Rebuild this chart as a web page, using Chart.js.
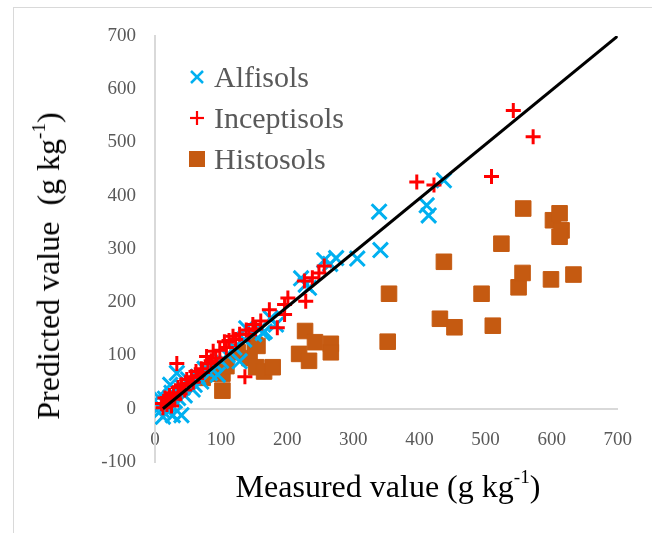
<!DOCTYPE html>
<html>
<head>
<meta charset="utf-8">
<script src="https://cdn.jsdelivr.net/npm/chart.js@4.4.1/dist/chart.umd.min.js"></script>
<style>
body { margin: 0; background: #fff; }
#wrap { position: relative; width: 652px; height: 533px; overflow: hidden; }
#frame { position: absolute; left: 13px; top: 7px; width: 700px; height: 600px;
         border-left: 1px solid #d9d9d9; border-top: 1px solid #d9d9d9; }
#chart { position: absolute; left: 0; top: 0; }
.legend { position: absolute; left: 187px; top: 56px; font-family: 'Liberation Serif', serif;
          font-size: 30px; color: #595959; }
.legend div { height: 41px; line-height: 41px; display: flex; align-items: center; }
.legend svg { margin-right: 7px; }
.title { position: absolute; font-family: 'Liberation Serif', serif; font-size: 32px;
         color: #000; white-space: nowrap; line-height: 1; }
.title sup { font-size: 60%; line-height: 0; vertical-align: 0.75em; }
#xtitle { left: 388px; top: 470px; transform: translateX(-50%); }
#ytitle { left: 48px; top: 266px; transform: translate(-50%, -50%) rotate(-90deg); }
</style>
</head>
<body>
<div id="wrap">
  <div id="frame"></div>
  <canvas id="chart" width="652" height="533"></canvas>
  <div class="legend" id="legend"></div>
  <div class="title" id="xtitle">Measured value (g kg<sup>-1</sup>)</div>
  <div class="title" id="ytitle">Predicted value&nbsp; (g kg<sup>-1</sup>)</div>
</div>
<script>

// values (g kg-1)

const seriesNames = ["Alfisols", "Inceptisols", "Histosols"];
const seriesColors = ["#00b0f0", "#ff0000", "#c55a11"];

const alfisolsMeasured = [5, 8, 10, 12, 15, 18, 20, 23, 25, 27, 30, 33, 35, 40, 42, 45, 50, 57, 60, 65,
    70, 75, 83, 90, 95, 100, 110, 120, 128, 135, 138, 150, 163, 166, 175, 183,
    221, 228, 233, 256, 265, 274, 306, 339, 341, 411, 414, 437];
const alfisolsPredicted = [22, 5, -2, -15, 19, 8, -5, 45, 30, -12, 15, 67, 20, -12, 40, 25, 55, 36, 45, 60,
    51, 75, 67, 85, 64, 90, 100, 115, 89, 130, 151, 140, 142, 145, 170, 158,
    245, 233, 227, 279, 272, 283, 282, 370, 298, 382, 363, 429];

const inceptisolsMeasured = [10, 12, 15, 18, 20, 22, 25, 28, 30, 33, 35, 38, 40, 45, 48, 50, 55, 58, 62, 65,
    70, 72, 78, 80, 85, 88, 92, 98, 105, 108, 112, 118, 122, 128, 136, 138, 142, 148,
    152, 160, 173, 185, 196, 196, 201, 226, 228, 238, 248, 256, 396, 422, 509, 542, 572];
const inceptisolsPredicted = [10, 2, 20, 8, 15, 25, 5, 30, 18, 85, 40, 28, 45, 35, 55, 48, 60, 50, 70, 62,
    75, 68, 98, 85, 90, 108, 95, 110, 126, 115, 128, 136, 130, 140, 60, 148, 140, 158,
    150, 165, 186, 152, 177, 196, 208, 240, 202, 246, 255, 268, 426, 420, 436, 560, 511];

const histosolsMeasured = [72, 83, 102, 102, 108, 125, 143, 151, 155, 153, 165, 178,
    218, 233, 227, 242, 266, 266, 352, 354, 431, 453, 437, 494, 511, 524,
    550, 556, 557, 599, 602, 612, 615, 612, 633];
const histosolsPredicted = [58, 66, 66, 34, 80, 106, 95, 120, 118, 78, 70, 78,
    103, 90, 146, 125, 122, 106, 126, 216, 169, 153, 276, 216, 156, 310,
    228, 255, 376, 243, 354, 367, 335, 323, 252];

const lineMeasured = [12, 700];
const linePredicted = [0, 700];

const xTicks = [0, 100, 200, 300, 400, 500, 600, 700];
const yTicks = [-100, 0, 100, 200, 300, 400, 500, 600, 700];


function toPoints(xs, ys) {
    return xs.map((x, i) => ({ x: x, y: ys[i] }));
}


function buildLegend() {
    const marks = [
        '<line x1="4" y1="4" x2="16" y2="16" stroke="#00b0f0" stroke-width="2.5"/><line x1="16" y1="4" x2="4" y2="16" stroke="#00b0f0" stroke-width="2.5"/>',
        '<line x1="3" y1="10" x2="17" y2="10" stroke="#ff0000" stroke-width="2.2"/><line x1="10" y1="3" x2="10" y2="17" stroke="#ff0000" stroke-width="2.2"/>',
        '<rect x="2" y="2" width="16" height="16" fill="#c55a11"/>'
    ];
    let html = "";
    seriesNames.forEach((name, i) => {
        html += '<div><svg width="20" height="20">' + marks[i] + '</svg>' + name + '</div>';
    });
    document.getElementById("legend").innerHTML = html;
}


function drawChart() {

    const tickFont = { family: "'Liberation Serif', serif", size: 19 };

    new Chart(document.getElementById("chart"), {
        type: "scatter",
        data: {
            datasets: [
                {
                    type: "line",
                    label: "1:1",
                    data: toPoints(lineMeasured, linePredicted),
                    borderColor: "#000",
                    borderWidth: 3,
                    pointRadius: 0,
                    order: 0
                },
                {
                    label: seriesNames[0],
                    data: toPoints(alfisolsMeasured, alfisolsPredicted),
                    pointStyle: "crossRot",
                    pointRadius: 10.5,
                    pointBorderWidth: 3,
                    borderColor: seriesColors[0],
                    backgroundColor: seriesColors[0],
                    order: 2
                },
                {
                    label: seriesNames[1],
                    data: toPoints(inceptisolsMeasured, inceptisolsPredicted),
                    pointStyle: "cross",
                    pointRadius: 7.5,
                    pointBorderWidth: 3,
                    borderColor: seriesColors[1],
                    backgroundColor: seriesColors[1],
                    order: 1
                },
                {
                    label: seriesNames[2],
                    data: toPoints(histosolsMeasured, histosolsPredicted),
                    pointStyle: "rect",
                    pointRadius: 11,
                    pointBorderWidth: 1,
                    borderColor: seriesColors[2],
                    backgroundColor: seriesColors[2],
                    order: 3
                }
            ]
        },
        options: {
            responsive: false,
            animation: false,
            layout: { padding: { left: 95, right: 32, top: 36, bottom: 71 } },
            plugins: { legend: { display: false }, tooltip: { enabled: false } },
            scales: {
                x: {
                    type: "linear",
                    position: { y: 0 },
                    min: xTicks[0],
                    max: xTicks[xTicks.length - 1],
                    grid: { display: false, drawTicks: false },
                    border: { color: "#d9d9d9", width: 2 },
                    ticks: { stepSize: 100, padding: 20, color: "#595959", font: tickFont }
                },
                y: {
                    type: "linear",
                    position: "left",
                    min: yTicks[0],
                    max: yTicks[yTicks.length - 1],
                    afterFit: (scale) => { scale.width = 60; },
                    grid: { display: false, drawTicks: false },
                    border: { color: "#d9d9d9", width: 2 },
                    ticks: { stepSize: 100, padding: 19, color: "#595959", font: tickFont }
                }
            }
        }
    });
}


buildLegend();
drawChart();

</script>
</body>
</html>
